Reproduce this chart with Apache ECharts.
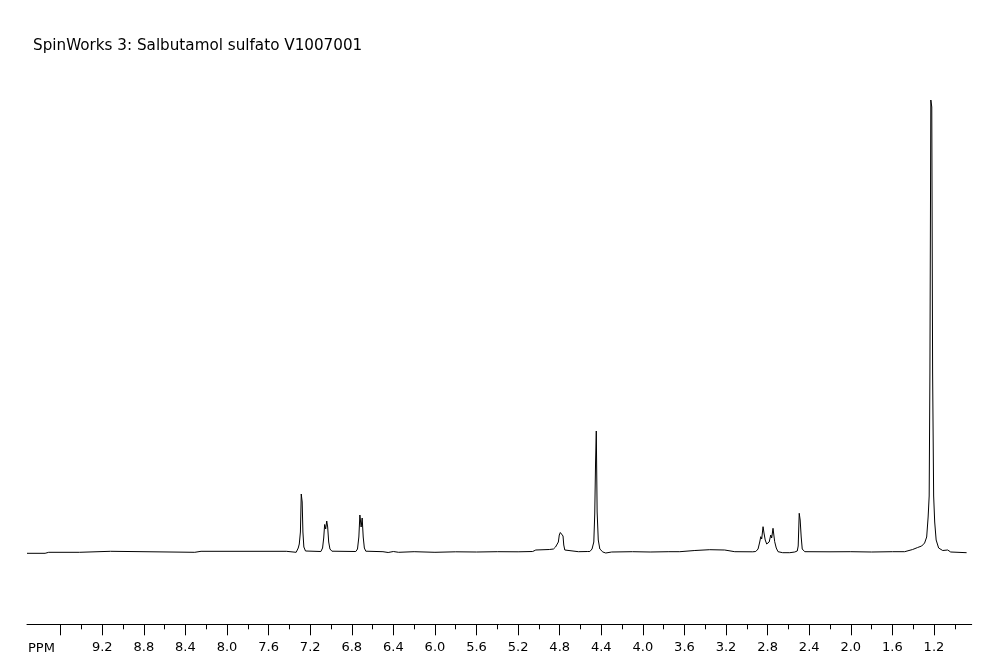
<!DOCTYPE html>
<html>
<head>
<meta charset="utf-8">
<script src="https://cdn.jsdelivr.net/npm/echarts@6/dist/echarts.min.js"></script>
<style>
html,body{margin:0;padding:0;background:#fff;}
#chart{width:987px;height:657px;}
</style>
</head>
<body>
<div id="chart"></div>
<script>
const titleText = 'SpinWorks 3: Salbutamol sulfato V1007001';
const axisName = 'PPM';

// chemical shift (ppm), left to right
const ppm = [
  9.924, 9.75, 9.715, 9.42, 9.41, 9.12, 9.11, 8.31, 8.305, 8.25, 7.43, 7.42, 7.335,
  7.328, 7.315, 7.305, 7.294, 7.286, 7.277, 7.270, 7.261, 7.245, 7.23,
  7.097, 7.081, 7.070, 7.061, 7.051, 7.041, 7.032, 7.022, 7.010, 6.991,
  6.761, 6.745, 6.732, 6.722, 6.710, 6.700, 6.690, 6.679, 6.665,
  6.50, 6.45, 6.40, 6.35, 6.20, 6.00, 5.80, 5.60, 5.40, 5.20, 5.06,
  5.03, 4.90, 4.86, 4.84,
  4.825, 4.813, 4.804, 4.794, 4.787, 4.778, 4.768, 4.761, 4.751, 4.732,
  4.62, 4.53, 4.510,
  4.489, 4.472, 4.463, 4.455, 4.448, 4.440, 4.429, 4.414, 4.385, 4.357,
  4.30, 4.10, 3.93, 3.75, 3.645, 3.50, 3.357, 3.213, 3.116, 2.943,
  2.914, 2.892, 2.876, 2.866, 2.857, 2.844, 2.835, 2.823, 2.809, 2.796,
  2.785, 2.770, 2.761, 2.748, 2.739, 2.732, 2.717, 2.700,
  2.655, 2.587, 2.539,
  2.515, 2.506, 2.496, 2.487, 2.477, 2.467, 2.443,
  2.20, 2.00, 1.80, 1.60, 1.482,
  1.405, 1.357, 1.318, 1.290, 1.270, 1.256, 1.246, 1.239, 1.230, 1.221,
  1.213, 1.203, 1.193, 1.179, 1.155, 1.116, 1.068, 1.039, 0.886
];

// intensity (arbitrary units)
const intensity = [
  -1.3, -1.3, -0.3, -0.3, 0.7, 0.7, -0.3, -0.3, 0.5, 0.7, 0.7, -0.3, -0.3,
  1, 4, 8, 20, 58, 50, 20, 5, 1, 0.3,
  0.5, 4, 14, 27.5, 23, 31, 25, 10, 3, 0.8,
  0.5, 3, 15, 37, 25, 34, 15, 4, 0.8,
  0.3, -0.5, 0.5, -0.3, 0.3, -0.3, 0.2, 0, 0.3, 0.2, 0.5,
  2, 2.5, 3, 5,
  5, 10, 17, 19.5, 18.5, 21, 16, 7, 2, 0.5,
  0.3, 0.5, 0.5,
  3, 10, 38, 90, 121, 40, 12, 3, 0, -1,
  0, 0.3, 0, 0.3, 0.3, 1.5, 2.3, 2, 0.3, 0.2,
  0.5, 3, 10, 15.3, 13, 25.3, 19, 12, 8, 7.7,
  10, 17, 14, 23.7, 16, 10.3, 4, 0.3,
  -0.7, -0.7, 0,
  1, 6, 38.7, 32, 15, 3, 0.3,
  0.2, 0.3, 0, 0.3, 0.3,
  2.5, 4.5, 6, 9, 15, 35, 56, 179, 452, 445,
  179, 56, 30, 12, 4, 1.5, 2, 0, -0.7
];

const majorTicks = [9.6, 9.2, 8.8, 8.4, 8.0, 7.6, 7.2, 6.8, 6.4, 6.0, 5.6, 5.2, 4.8, 4.4, 4.0, 3.6, 3.2, 2.8, 2.4, 2.0, 1.6, 1.2];
const tickLabels = [9.2, 8.8, 8.4, 8.0, 7.6, 7.2, 6.8, 6.4, 6.0, 5.6, 5.2, 4.8, 4.4, 4.0, 3.6, 3.2, 2.8, 2.4, 2.0, 1.6, 1.2];
const minorTicks = [9.4, 9.0, 8.6, 8.2, 7.8, 7.4, 7.0, 6.6, 6.2, 5.8, 5.4, 5.0, 4.6, 4.2, 3.8, 3.4, 3.0, 2.6, 2.2, 1.8, 1.4, 1.0];

const FONT = 'DejaVu Sans';
const data = ppm.map((p, i) => [p, intensity[i]]);

const chart = echarts.init(document.getElementById('chart'), null, {renderer: 'canvas'});
chart.setOption({
  animation: false,
  backgroundColor: '#ffffff',
  title: {
    text: titleText,
    left: 33, top: 39, padding: 0,
    textStyle: {fontFamily: FONT, fontSize: 15.2, fontWeight: 'normal', color: '#000'}
  },
  graphic: [{
    type: 'text', left: 28, top: 642,
    style: {text: axisName, font: '13px "DejaVu Sans"', fill: '#000'}
  }],
  grid: {left: 27, right: 15.3, top: 100, bottom: 32.7, containLabel: false},
  xAxis: [{
    type: 'value', position: 'bottom', inverse: true,
    min: 0.837, max: 9.924,
    axisLine: {show: true, onZero: false, lineStyle: {color: '#000', width: 1}},
    axisTick: {show: true, length: 11, customValues: majorTicks, lineStyle: {color: '#000', width: 1}},
    axisLabel: {show: true, customValues: tickLabels, margin: 17,
      formatter: v => Number(v).toFixed(1),
      fontFamily: FONT, fontSize: 13, color: '#000'},
    splitLine: {show: false}
  }, {
    type: 'value', position: 'bottom', inverse: true, offset: 0,
    min: 0.837, max: 9.924,
    axisLine: {show: false, onZero: false},
    axisTick: {show: true, length: 5, customValues: minorTicks, lineStyle: {color: '#000', width: 1}},
    axisLabel: {show: false},
    splitLine: {show: false}
  }],
  yAxis: {
    type: 'value', min: -72.3, max: 452, show: false,
    splitLine: {show: false}
  },
  series: [{
    type: 'line', xAxisIndex: 0, data: data,
    showSymbol: false, symbol: 'none',
    lineStyle: {color: '#000', width: 1},
    silent: true
  }]
});
</script>
</body>
</html>
